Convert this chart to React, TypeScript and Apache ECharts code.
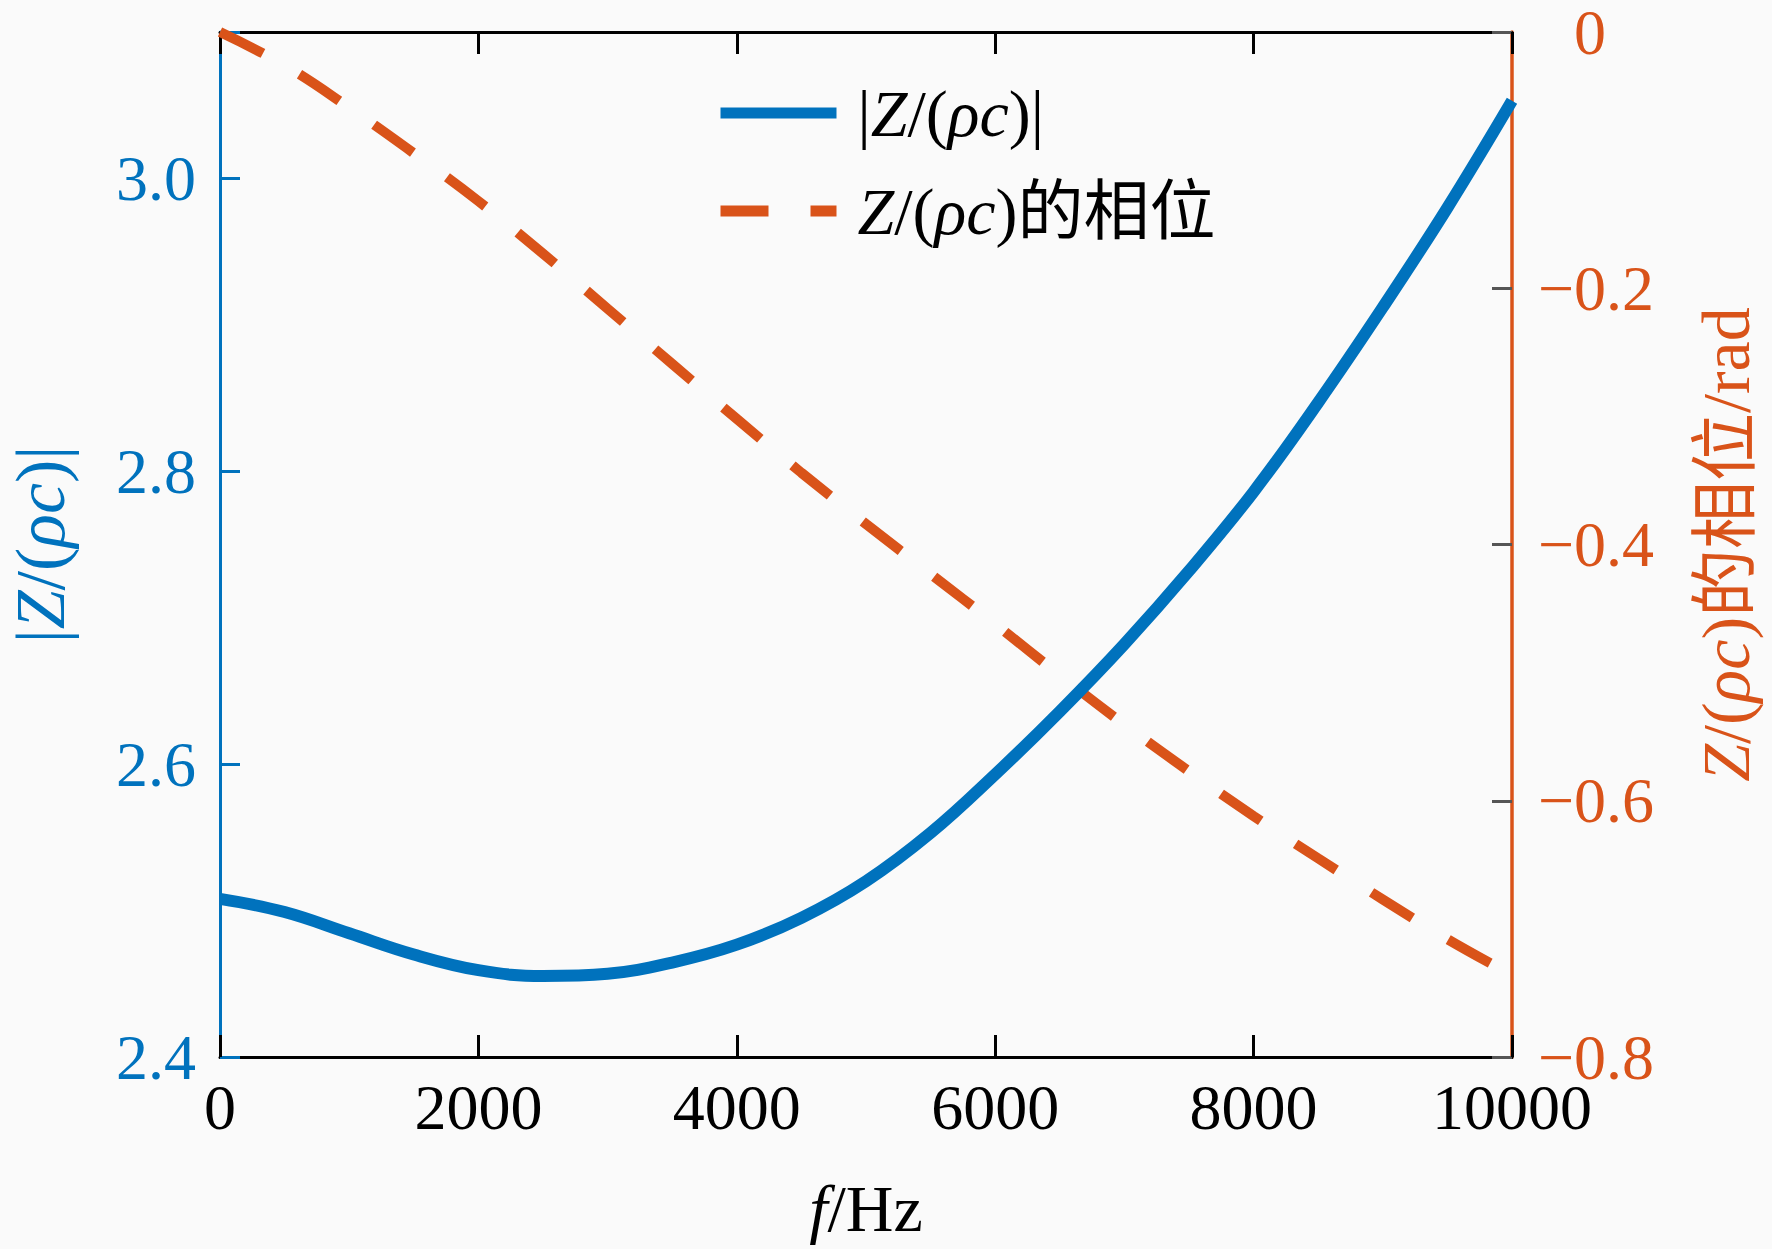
import React, { useEffect, useRef } from 'react';
import * as echarts from 'echarts';

const frequency = [0, 500, 1000, 1500, 2000, 2500, 3000, 3500, 4000, 4500, 5000, 5500, 6000, 6500, 7000, 7500, 8000, 8500, 9000, 9500, 10000];
const magnitude = [2.508, 2.499, 2.4845, 2.470, 2.4593, 2.4553, 2.4568, 2.4645, 2.4767, 2.495, 2.520, 2.553, 2.593, 2.636, 2.682, 2.732, 2.786, 2.847, 2.912, 2.980, 3.053];
const phase = [0, -0.026, -0.059, -0.0946, -0.132, -0.173, -0.216, -0.259, -0.302, -0.344, -0.384, -0.423, -0.462, -0.502, -0.5405, -0.577, -0.612, -0.645, -0.677, -0.708, -0.736];

const seriesNames = ['|Z/(ρc)|', 'Z/(ρc)的相位'];
const legendRich = ['{sp|}|{i|Z}/({i|ρc})|', '{sp|}{i|Z}/({i|ρc})的相位'];
const xTitle = '{i|f}/Hz';
const leftTitle = '|{i|Z}/({i|ρc})|';
const rightTitle = '{i|Z}/({i|ρc})的相位/rad';

const FONT = "Liberation Serif, Noto Sans CJK SC, serif";
const BLUE = '#0072BD';
const RED = '#D95319';

export default function App() {
  const ref = useRef<HTMLDivElement>(null);
  useEffect(() => {
    if (!ref.current) return;
    const chart = echarts.init(ref.current, null, { renderer: 'svg' });
    const italic = (size: number, color: string) => ({ fontStyle: 'italic', fontSize: size, fontFamily: FONT, color });
    const normal = (size: number, color: string) => ({ fontSize: size, fontFamily: FONT, color });
    chart.setOption({
      animation: false,
      backgroundColor: '#fafafa',
      grid: { left: 220, right: 260, top: 32, bottom: 192, containLabel: false, outerBoundsMode: 'none' },
      legend: {
        orient: 'vertical',
        left: 710,
        top: 72,
        itemWidth: 116,
        itemHeight: 14,
        itemGap: 26,
        itemStyle: { opacity: 0 },
        lineStyle: { width: 11 },
        data: seriesNames,
        formatter: (name: string) => legendRich[seriesNames.indexOf(name)],
        textStyle: {
          fontSize: 66,
          fontFamily: FONT,
          color: '#000',
          lineHeight: 72,
          rich: {
            sp: { width: 16, lineHeight: 72 },
            i: { ...italic(66, '#000'), lineHeight: 72 },
          },
        },
      },
      xAxis: [
        {
          type: 'value',
          min: 0,
          max: 10000,
          interval: 2000,
          position: 'bottom',
          name: xTitle,
          nameLocation: 'middle',
          nameGap: 118,
          nameTextStyle: { ...normal(66, '#000'), rich: { i: italic(66, '#000') } },
          axisLine: { show: true, onZero: false, lineStyle: { color: '#000', width: 3 } },
          axisTick: { show: true, inside: true, length: 22, lineStyle: { color: '#000', width: 3 } },
          axisLabel: { ...normal(64, '#000'), lineHeight: 50, margin: 25, formatter: (v: number) => String(v) },
          splitLine: { show: false },
        },
        {
          type: 'value',
          min: 0,
          max: 10000,
          interval: 2000,
          position: 'top',
          axisLine: { show: true, onZero: false, lineStyle: { color: '#000', width: 3 } },
          axisTick: { show: true, inside: true, length: 22, lineStyle: { color: '#000', width: 3 } },
          axisLabel: { show: false },
          splitLine: { show: false },
        },
      ],
      yAxis: [
        {
          type: 'value',
          min: 2.4,
          max: 3.1,
          interval: 0.2,
          position: 'left',
          name: leftTitle,
          nameLocation: 'middle',
          nameRotate: 90,
          nameGap: 145,
          nameTextStyle: { ...normal(70, BLUE), rich: { i: italic(70, BLUE) } },
          axisLine: { show: true, onZero: false, lineStyle: { color: BLUE, width: 3 } },
          axisTick: { show: true, inside: true, length: 20, lineStyle: { color: BLUE, width: 3 } },
          axisLabel: {
            ...normal(64, BLUE),
            margin: 24,
            formatter: (v: number) => (Math.abs(v - 3.1) < 1e-6 ? '' : v.toFixed(1)),
          },
          splitLine: { show: false },
        },
        {
          type: 'value',
          min: -0.8,
          max: 0,
          interval: 0.2,
          position: 'right',
          name: rightTitle,
          nameLocation: 'middle',
          nameRotate: 90,
          nameGap: 180,
          nameTextStyle: { ...normal(68, RED), rich: { i: italic(68, RED) } },
          axisLine: { show: true, onZero: false, lineStyle: { color: RED, width: 3.5 } },
          axisTick: { show: true, inside: true, length: 20, lineStyle: { color: '#555', width: 3 } },
          axisLabel: {
            ...normal(64, RED),
            lineHeight: 48,
            margin: 26,
            formatter: (v: number) => (Math.abs(v) < 1e-9 ? '{h|−}0' : '−' + Math.abs(v).toFixed(1)),
            rich: { h: { ...normal(64, 'transparent'), lineHeight: 48 } },
          },
          splitLine: { show: false },
        },
      ],
      series: [
        {
          name: seriesNames[0],
          type: 'line',
          xAxisIndex: 0,
          yAxisIndex: 0,
          data: frequency.map((f, i) => [f, magnitude[i]]),
          smooth: 0.4,
          symbol: 'none',
          z: 3,
          lineStyle: { color: BLUE, width: 12 },
          itemStyle: { color: BLUE },
        },
        {
          name: seriesNames[1],
          type: 'line',
          xAxisIndex: 0,
          yAxisIndex: 1,
          data: frequency.map((f, i) => [f, phase[i]]),
          smooth: 0.4,
          symbol: 'none',
          z: 2,
          lineStyle: { color: RED, width: 10, type: [48, 42], cap: 'butt' },
          itemStyle: { color: RED },
        },
      ],
    });
    return () => chart.dispose();
  }, []);
  return <div ref={ref} style={{ position: 'absolute', left: 0, top: 0, width: 1772, height: 1249 }} />;
}
